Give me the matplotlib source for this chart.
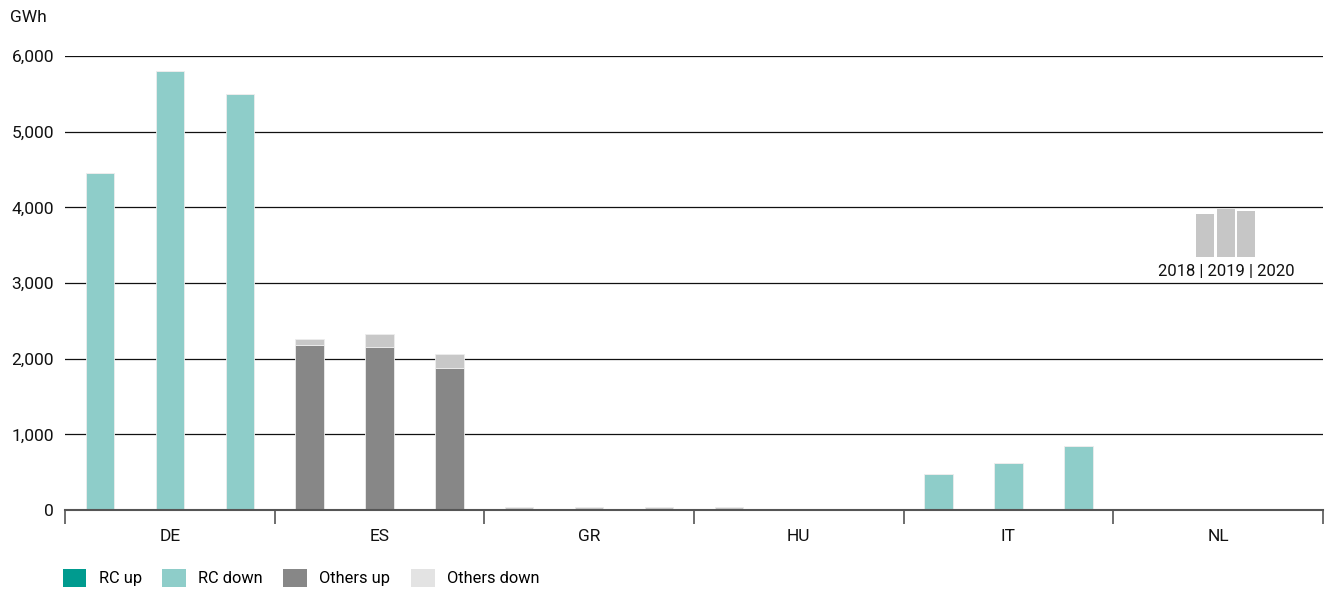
import matplotlib
matplotlib.use("Agg")
import matplotlib.pyplot as plt
from matplotlib.patches import Patch, Rectangle
import numpy as np

plt.rcParams['font.family'] = ['Roboto', 'DejaVu Sans']

countries = ["DE", "ES", "GR", "HU", "IT", "NL"]
years = ["2018", "2019", "2020"]

# GWh per country, one list per year (2018, 2019, 2020)
rc_up = [
    [0, 0, 0, 0, 0, 0],
    [0, 0, 0, 0, 0, 0],
    [0, 0, 0, 0, 0, 0],
]
rc_down = [
    [4450, 0, 0, 0, 475, 0],
    [5800, 0, 0, 0, 620, 0],
    [5500, 0, 0, 0, 845, 0],
]
others_up = [
    [0, 2180, 15, 0, 0, 0],
    [0, 2150, 0, 0, 0, 0],
    [0, 1875, 15, 0, 0, 0],
]
others_down = [
    [0, 80, 25, 45, 0, 0],
    [0, 175, 45, 0, 0, 0],
    [0, 185, 25, 0, 0, 0],
]

series = [
    ("RC up", rc_up, "#009B8F", "#009B8F"),
    ("RC down", rc_down, "#8ECDC9", "#8ECDC9"),
    ("Others up", others_up, "#878787", "#878787"),
    ("Others down", others_down, "#C8C8C8", "#E3E3E3"),
]

fig = plt.figure(figsize=(13.26, 5.89), dpi=100)
ax = fig.add_axes([65 / 1326, 79 / 589, 1258 / 1326, 454 / 589])

x = np.arange(len(countries))
offsets = [-1 / 3, 0, 1 / 3]
width = 0.135

for yi, off in enumerate(offsets):
    bottom = np.zeros(len(countries))
    for name, data, color, _ in series:
        vals = np.array(data[yi], dtype=float)
        ax.bar(x + off, vals, width, bottom=bottom, color=color,
               edgecolor="#EDEDED", linewidth=0.6, zorder=3)
        bottom += vals

ax.set_xlim(-0.5, len(countries) - 0.5)
ax.set_ylim(0, 6000)
yticks = np.arange(0, 6001, 1000)
ax.set_yticks(yticks)
ax.set_yticklabels([f"{v:,.0f}" for v in yticks], fontsize=12.5, color="#111111")
ax.tick_params(axis="y", length=0, pad=8)

for v in yticks[1:]:
    ax.axhline(v, color="#111111", linewidth=0.9, zorder=1)

# category axis: labels centered, ticks on group boundaries
ax.set_xticks(x)
ax.set_xticklabels(countries, fontsize=12.5, color="#111111")
ax.tick_params(axis="x", length=0, pad=14)
ax.set_xticks(np.arange(-0.5, len(countries), 1.0), minor=True)
ax.tick_params(axis="x", which="minor", length=10, width=1.2, color="#555555")

for side in ["top", "right", "left"]:
    ax.spines[side].set_visible(False)
ax.spines["bottom"].set_color("#555555")
ax.spines["bottom"].set_linewidth(1.5)
ax.spines["bottom"].set_zorder(4)

fig.text(10 / 1326, 1 - 18 / 589, "GWh", fontsize=12.5, va="center", ha="left", color="#111111")

# year key
key_bottom = 257
key_bars = [(1196, 214), (1217, 209), (1237, 211)]
for left, top in key_bars:
    fig.patches.append(Rectangle((left / 1326, 1 - key_bottom / 589), 18 / 1326,
                                 (key_bottom - top) / 589, transform=fig.transFigure,
                                 facecolor="#C6C6C6", edgecolor="none"))
fig.text(1226 / 1326, 1 - 272 / 589, " | ".join(years), fontsize=12,
         ha="center", va="center", color="#111111")

handles = [Patch(facecolor=lc, edgecolor="none", label=name) for name, _, _, lc in series]
fig.legend(handles=handles, loc="center left", bbox_to_anchor=(56 / 1326, 1 - 578 / 589),
           ncol=4, frameon=False, fontsize=11.8, handlelength=1.45, handleheight=1.3,
           handletextpad=0.75, columnspacing=1.25, borderaxespad=0)

fig.savefig("out.png", dpi=100)
